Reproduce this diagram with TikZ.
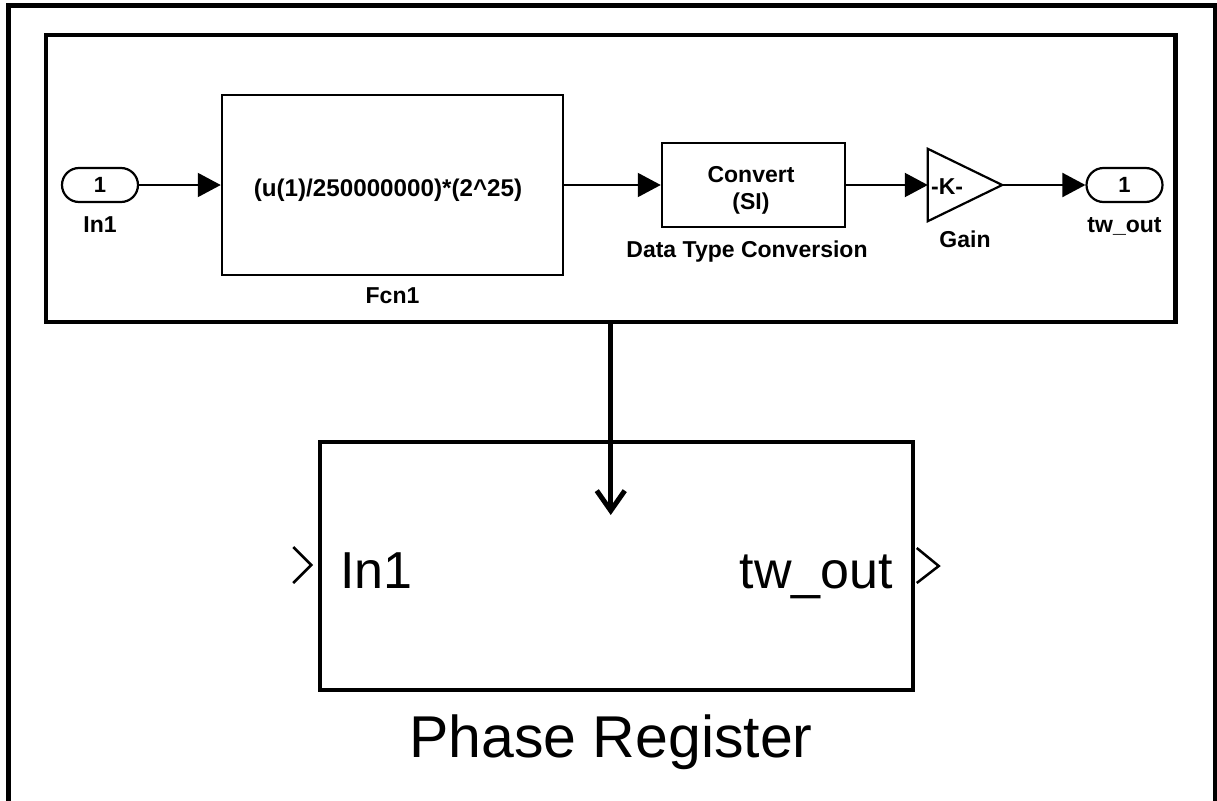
\documentclass[tikz,border=0pt]{standalone}
\usepackage{fontspec}
\setmainfont{Liberation Sans}
\usetikzlibrary{arrows.meta,calc}

\begin{document}
\begin{tikzpicture}[x=1pt,y=-1pt,
  lbl/.style={font=\fontsize{23}{26}\selectfont\bfseries, inner sep=0pt},
  blk/.style={draw, line width=2.5pt, inner sep=0pt},
  port/.style={draw, line width=2.2pt, rounded corners=17pt, minimum width=76pt,
    minimum height=34pt, inner sep=0pt, font=\fontsize{22}{24}\selectfont\bfseries},
  sig/.style={line width=2pt, -{Triangle[length=23pt,width=24pt]}},
  bigtxt/.style={font=\fontsize{52}{60}\selectfont, inner sep=0pt},
  pin/.style={line width=2.5pt, line join=miter},
]
\useasboundingbox (0,0) rectangle (1217,800);
\clip (0,0) rectangle (1217,800);

% outer frame (runs off the bottom of the page)
\draw[line width=5pt] (8.5,6) rectangle (1215.5,840);

% subsystem contents
\node[draw, line width=4.5pt, minimum width=1129.5pt, minimum height=287pt, inner sep=0pt]
  (sub) at (610.75,178.5) {};

\node[port] (in) at (100,185) {1};
\node[lbl, anchor=base] (inlbl) at (100,232) {In1};

\node[blk, minimum width=341pt, minimum height=180pt] (fcn) at (392.5,185) {};
\node[lbl, font=\fontsize{24.2}{28}\selectfont\bfseries, anchor=base] (fcntxt) at (388,196)
  {(u(1)/250000000)*(2\textasciicircum 25)};
\node[lbl, anchor=base] (fcnlbl) at (392.5,303) {Fcn1};

\node[blk, minimum width=183pt, minimum height=84pt] (dtc) at (753.5,185) {};
\node[lbl, anchor=base] (dtc1) at (751,182) {Convert};
\node[lbl, anchor=base] (dtc2) at (751,209) {(SI)};
\node[lbl, anchor=base] (dtclbl) at (747,257) {Data Type Conversion};

\node[inner sep=0pt, minimum width=74pt, minimum height=72pt] (gain) at (965,185) {};
\draw[line width=2.2pt, line join=miter] (gain.north west) -- (gain.east) -- (gain.south west) -- cycle;
\node[lbl, anchor=base west] (gaink) at (931,194) {-K-};
\node[lbl, anchor=base] (gainlbl) at (965,247) {Gain};

\node[port] (out) at (1124.5,185) {1};
\node[lbl, anchor=base] (outlbl) at (1124.5,232) {tw\_out};

\draw[sig] (in.east) -- (fcn.west);
\draw[sig] (fcn.east) -- (dtc.west);
\draw[sig] (dtc.east) -- (gain.west);
\draw[sig] (gain.east) -- (out.west);

% subsystem block
\node[draw, line width=3.5pt, minimum width=593pt, minimum height=248pt, inner sep=0pt]
  (pr) at (616.5,566) {};
\coordinate (tip) at (610.75,515);
\draw[line width=5pt, -{Straight Barb[length=20pt,width=28pt]}] (sub.south) -- (tip);

\draw[pin] ($(pr.west)+(-25,-19)$) -- ($(pr.west)+(-7,-1)$) -- ($(pr.west)+(-25,17)$);
\draw[pin] ($(pr.east)+(2,-18)$) -- ($(pr.east)+(24,0)$) -- ($(pr.east)+(2,17)$);

\node[bigtxt, anchor=base west] (prin) at (340,588) {In1};
\node[bigtxt, anchor=base east] (prout) at (893,588) {tw\_out};
\node[bigtxt, font=\fontsize{59}{66}\selectfont, anchor=base] (prname) at (611,757) {Phase Register};
\end{tikzpicture}
\end{document}
